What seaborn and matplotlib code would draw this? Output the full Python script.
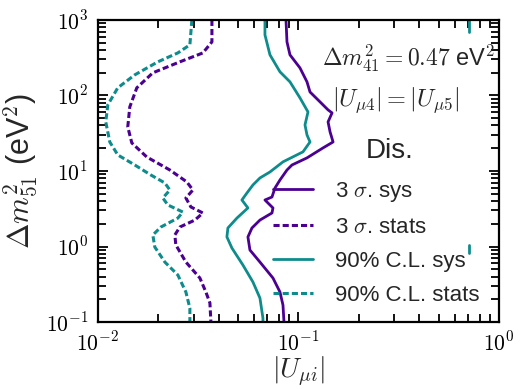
import matplotlib
matplotlib.use('Agg')
import matplotlib.pyplot as plt
import seaborn as sns

# contour traces (|U_mu i| vs dm51^2)
sys3_u = [0.08665, 0.08764, 0.09071, 0.10174, 0.11026, 0.11414, 0.12807, 0.14040, 0.14700, 0.14040,
          0.14367, 0.14871, 0.13256, 0.11026, 0.09282, 0.08764, 0.08088, 0.07637, 0.07378, 0.06807,
          0.07463, 0.07378, 0.06427, 0.05864, 0.05600, 0.05730, 0.06427, 0.07463, 0.08088, 0.08371, 0.08468]
sys3_m = [1000, 511, 344, 231, 151, 111, 82.0, 64.3, 58.7, 44.6,
          32.9, 24.2, 20.2, 14.9, 12.0, 10.3, 7.60, 5.95, 4.52, 4.13,
          3.24, 2.78, 2.24, 1.76, 1.34, 0.899, 0.623, 0.383, 0.250, 0.168, 0.1]

stat3_u = [0.03705, 0.03705, 0.03340, 0.02564, 0.01881, 0.01565, 0.01444, 0.01411, 0.01478, 0.01755,
           0.02287, 0.02780, 0.02978, 0.02748, 0.02910, 0.03340, 0.03047, 0.02564, 0.02421, 0.02449,
           0.02748, 0.03227, 0.03457, 0.03620, 0.03662]
stat3_m = [1000, 511, 365, 278, 199, 126, 70.4, 38.3, 23.5, 15.3,
           10.3, 7.15, 5.60, 4.39, 3.34, 2.78, 2.24, 1.81, 1.42, 1.05,
           0.623, 0.383, 0.250, 0.179, 0.1]

sys90_u = [0.06807, 0.06807, 0.07210, 0.08088, 0.09071, 0.10174, 0.11154, 0.10776, 0.11026, 0.11414,
           0.10530, 0.08371, 0.07210, 0.06427, 0.05931, 0.05535, 0.05226, 0.05600, 0.04935, 0.04450,
           0.04400, 0.04660, 0.05287, 0.05931, 0.06427, 0.06652, 0.06652]
sys90_m = [1000, 633, 344, 205, 151, 92.7, 60.4, 40.7, 30.0, 24.2,
           17.9, 13.2, 9.70, 8.08, 6.53, 5.11, 4.13, 3.24, 2.38, 1.76,
           1.34, 0.955, 0.569, 0.339, 0.208, 0.113, 0.1]

stat90_u = [0.02944, 0.02877, 0.02506, 0.01992, 0.01529, 0.01258, 0.01122, 0.01096, 0.01148, 0.01258,
            0.01529, 0.01838, 0.02159, 0.02287, 0.02110, 0.02234, 0.02654, 0.02506, 0.02062, 0.01881,
            0.01924, 0.02159, 0.02506, 0.02748, 0.02877, 0.02877]
stat90_m = [1000, 467, 365, 278, 187, 126, 74.8, 44.6, 24.2, 16.3,
            12.0, 8.85, 6.94, 5.60, 4.39, 3.55, 2.86, 2.38, 1.81, 1.42,
            0.985, 0.623, 0.420, 0.250, 0.153, 0.1]

# tiny contour islands near |U| ~ 0.7
island_top_u = [0.7085, 0.7085]
island_top_m = [1000, 700]
island_mid_u = [0.7085, 0.7085]
island_mid_m = [1.05, 0.82]

labels = ['3 $\\sigma$. sys', '3 $\\sigma$. stats', '90% C.L. sys', '90% C.L. stats']
x_major = [1e-2, 1e-1, 1]
x_major_labels = ['$10^{-2}$', '$10^{-1}$', '$10^{0}$']
y_major = [1e-1, 1, 10, 100, 1000]
y_major_labels = ['$10^{-1}$', '$10^{0}$', '$10^{1}$', '$10^{2}$', '$10^{3}$']
purple = '#4B0092'
teal = '#0E8C8C'

sns.set_style('ticks')
plt.rcParams['font.family'] = ['Liberation Sans', 'DejaVu Sans']
plt.rcParams['mathtext.fontset'] = 'cm'

fig, ax = plt.subplots(figsize=(5.2, 3.89), dpi=100)
fig.subplots_adjust(left=0.188, right=0.96, bottom=0.172, top=0.949)

dash = (2, 1)
sns.lineplot(x=sys3_u, y=sys3_m, sort=False, estimator=None, color=purple, lw=2, label=labels[0], ax=ax)
sns.lineplot(x=stat3_u, y=stat3_m, sort=False, estimator=None, color=purple, lw=2.2, label=labels[1], ax=ax)
sns.lineplot(x=sys90_u, y=sys90_m, sort=False, estimator=None, color=teal, lw=2, label=labels[2], ax=ax)
sns.lineplot(x=stat90_u, y=stat90_m, sort=False, estimator=None, color=teal, lw=2.2, label=labels[3], ax=ax)
ax.lines[1].set_dashes(dash)
ax.lines[3].set_dashes(dash)
sns.lineplot(x=island_top_u, y=island_top_m, sort=False, estimator=None, color=teal, lw=2, ax=ax)
sns.lineplot(x=island_mid_u, y=island_mid_m, sort=False, estimator=None, color=teal, lw=2, ax=ax)

ax.set(xscale='log', yscale='log')
ax.set_xlim(1e-2, 1)
ax.set_ylim(1e-1, 1e3)
ax.set_xticks(x_major)
ax.set_xticklabels(x_major_labels)
ax.set_yticks(y_major)
ax.set_yticklabels(y_major_labels)
# minor ticks at 2..9 of each decade
x_minor = [m * d for d in x_major[:-1] for m in range(2, 10)]
y_minor = [m * d for d in y_major[:-1] for m in range(2, 10)]
ax.set_xticks(x_minor, minor=True)
ax.set_yticks(y_minor, minor=True)
ax.tick_params(which='both', direction='in', top=True, right=True, bottom=True, left=True)
ax.tick_params(which='major', length=7, width=1.3, labelsize=15.5, pad=7, color='black', labelcolor='black')
ax.tick_params(which='minor', length=5.5, width=1.3, color='black', labelbottom=False, labelleft=False)
for s in ax.spines.values():
    s.set_linewidth(1.6)
    s.set_color('black')

ax.set_xlabel('$|U_{\\mu i}|$', fontsize=20, labelpad=-1)
ax.set_ylabel('$\\Delta m^2_{51}$ (eV$^2$)', fontsize=22)

ax.text(0.559, 0.874, '$\\Delta m^2_{41} = 0.47$ eV$^2$', transform=ax.transAxes, fontsize=17, va='center')
ax.text(0.584, 0.735, '$|U_{\\mu 4}| = |U_{\\mu 5}|$', transform=ax.transAxes, fontsize=17.5, va='center')
ax.text(0.728, 0.566, 'Dis.', transform=ax.transAxes, fontsize=20, ha='center', va='center')

leg = ax.legend(loc='center left', bbox_to_anchor=(0.414, 0.262), borderaxespad=0, frameon=False,
                fontsize=16, handlelength=1.8, handletextpad=1.0, labelspacing=0.58)

fig.savefig('out.png', dpi=100)
